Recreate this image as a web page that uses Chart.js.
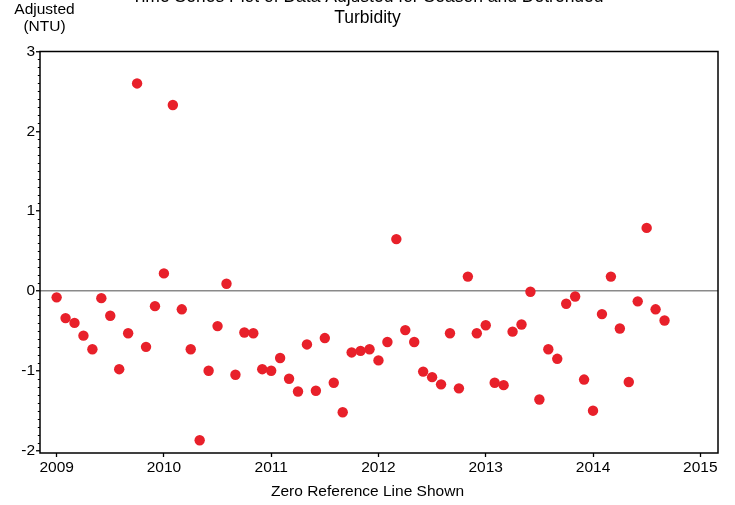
<!DOCTYPE html>
<html>
<head>
<meta charset="utf-8">
<title>Time Series Plot of Data Adjusted for Season and Detrended Turbidity</title>
<script src="https://cdn.jsdelivr.net/npm/chart.js@4.4.1/dist/chart.umd.min.js"></script>
<style>
  html, body { margin: 0; padding: 0; background: #fff; }
</style>
</head>
<body>
<canvas id="chart" width="735" height="505"></canvas>
<script>
// Monthly adjusted turbidity (NTU), Jan..Dec of each year
const years = [2009, 2010, 2011, 2012, 2013, 2014];
const adj2009 = [-0.08, -0.34, -0.40, -0.56, -0.73, -0.09, -0.31, -0.98, -0.53, 2.60, -0.70, -0.19];
const adj2010 = [0.22, 2.33, -0.23, -0.73, -1.87, -1.00, -0.44, 0.09, -1.05, -0.52, -0.53, -0.98];
const adj2011 = [-1.00, -0.84, -1.10, -1.26, -0.67, -1.25, -0.59, -1.15, -1.52, -0.77, -0.75, -0.73];
const adj2012 = [-0.87, -0.64, 0.65, -0.49, -0.64, -1.01, -1.08, -1.17, -0.53, -1.22, 0.18, -0.53];
const adj2013 = [-0.43, -1.15, -1.18, -0.51, -0.42, -0.01, -1.36, -0.73, -0.85, -0.16, -0.07, -1.11];
const adj2014 = [-1.50, -0.29, 0.18, -0.47, -1.14, -0.13, 0.79, -0.23, -0.37];
const adjusted = [adj2009, adj2010, adj2011, adj2012, adj2013, adj2014];

const xTicks = [2009, 2010, 2011, 2012, 2013, 2014, 2015];
const yTicks = [-2, -1, 0, 1, 2, 3];
const zeroRef = 0;
const minorStep = 0.1;

const xMin = 2008.845, xMax = 2015.165;
const yMin = -2.03, yMax = 3;

const points = [];
years.forEach((yr, i) => {
    adjusted[i].forEach((v, m) => points.push({ x: yr + m / 12, y: v }));
});

const FONT = "'Liberation Sans', Arial, sans-serif";

// frame, minor ticks and the stacked y-axis caption
const framePlugin = {
    id: 'frame',
    afterDraw(chart) {
        const { ctx, chartArea: a, scales } = chart;
        const y = scales.y;
        ctx.save();
        ctx.strokeStyle = '#000';
        ctx.lineWidth = 1;
        const kStart = Math.ceil(yMin / minorStep), kEnd = Math.floor(yMax / minorStep);
        for (let k = kStart; k <= kEnd; k++) {
            if (k % 10 === 0) continue;
            const py = Math.round(y.getPixelForValue(k * minorStep)) + 0.5;
            ctx.beginPath();
            ctx.moveTo(a.left - 2.2, py);
            ctx.lineTo(a.left, py);
            ctx.stroke();
        }
        ctx.lineWidth = 1.5;
        ctx.strokeRect(a.left, a.top, a.right - a.left, a.bottom - a.top);

        ctx.fillStyle = '#000';
        ctx.font = '15.5px ' + FONT;
        ctx.textAlign = 'center';
        ctx.textBaseline = 'middle';
        ctx.fillText('Adjusted', 44.5, 10);
        ctx.fillText('(NTU)', 44.5, 27);
        ctx.restore();
    }
};

new Chart(document.getElementById('chart'), {
    type: 'scatter',
    data: {
        datasets: [{
            data: points,
            pointRadius: 5.2,
            pointHoverRadius: 5.2,
            pointBackgroundColor: '#e8202a',
            pointBorderColor: '#e8202a',
            pointBorderWidth: 0
        }]
    },
    options: {
        responsive: false,
        devicePixelRatio: 1,
        animation: false,
        layout: { padding: 0 },
        plugins: {
            legend: { display: false },
            tooltip: { enabled: false },
            title: {
                display: true,
                text: ['Time Series Plot of Data Adjusted for Season and Detrended', 'Turbidity'],
                color: '#000',
                font: { family: FONT, size: 17.5, weight: 'normal', lineHeight: 1.2 },
                padding: { top: -13.5, bottom: 23 }
            },
            subtitle: {
                display: true,
                position: 'bottom',
                text: 'Zero Reference Line Shown',
                color: '#000',
                font: { family: FONT, size: 15.5, weight: 'normal', lineHeight: 1.2 },
                padding: { top: 1.7, bottom: 3.7 }
            }
        },
        scales: {
            x: {
                type: 'linear',
                position: 'bottom',
                min: xMin,
                max: xMax,
                afterBuildTicks: s => { s.ticks = xTicks.map(v => ({ value: v })); },
                afterFit: s => { s.height = 28; },
                ticks: {
                    callback: v => String(v),
                    color: '#000',
                    font: { family: FONT, size: 15.5 },
                    padding: 1.2,
                    maxRotation: 0,
                    autoSkip: false
                },
                grid: {
                    display: true,
                    drawOnChartArea: false,
                    drawTicks: true,
                    tickLength: 4,
                    tickColor: '#000',
                    tickWidth: 1.3
                },
                border: { display: false }
            },
            y: {
                type: 'linear',
                min: yMin,
                max: yMax,
                afterBuildTicks: s => { s.ticks = yTicks.map(v => ({ value: v })); },
                afterFit: s => { s.width = 40; },
                ticks: {
                    callback: v => String(v),
                    color: '#000',
                    font: { family: FONT, size: 15.5 },
                    padding: 1,
                    autoSkip: false
                },
                grid: {
                    display: true,
                    drawOnChartArea: true,
                    color: c => (c.tick && c.tick.value === zeroRef) ? '#8a8a8a' : 'rgba(0,0,0,0)',
                    lineWidth: 1.5,
                    drawTicks: true,
                    tickLength: 4,
                    tickColor: '#000',
                    tickWidth: 1.3
                },
                border: { display: false }
            },
            // empty right-hand strip so the titles centre on the whole canvas
            yRight: {
                type: 'linear',
                position: 'right',
                display: true,
                afterFit: s => { s.width = 17; },
                ticks: { display: false },
                grid: { display: false },
                border: { display: false }
            }
        }
    },
    plugins: [framePlugin]
});
</script>
</body>
</html>
